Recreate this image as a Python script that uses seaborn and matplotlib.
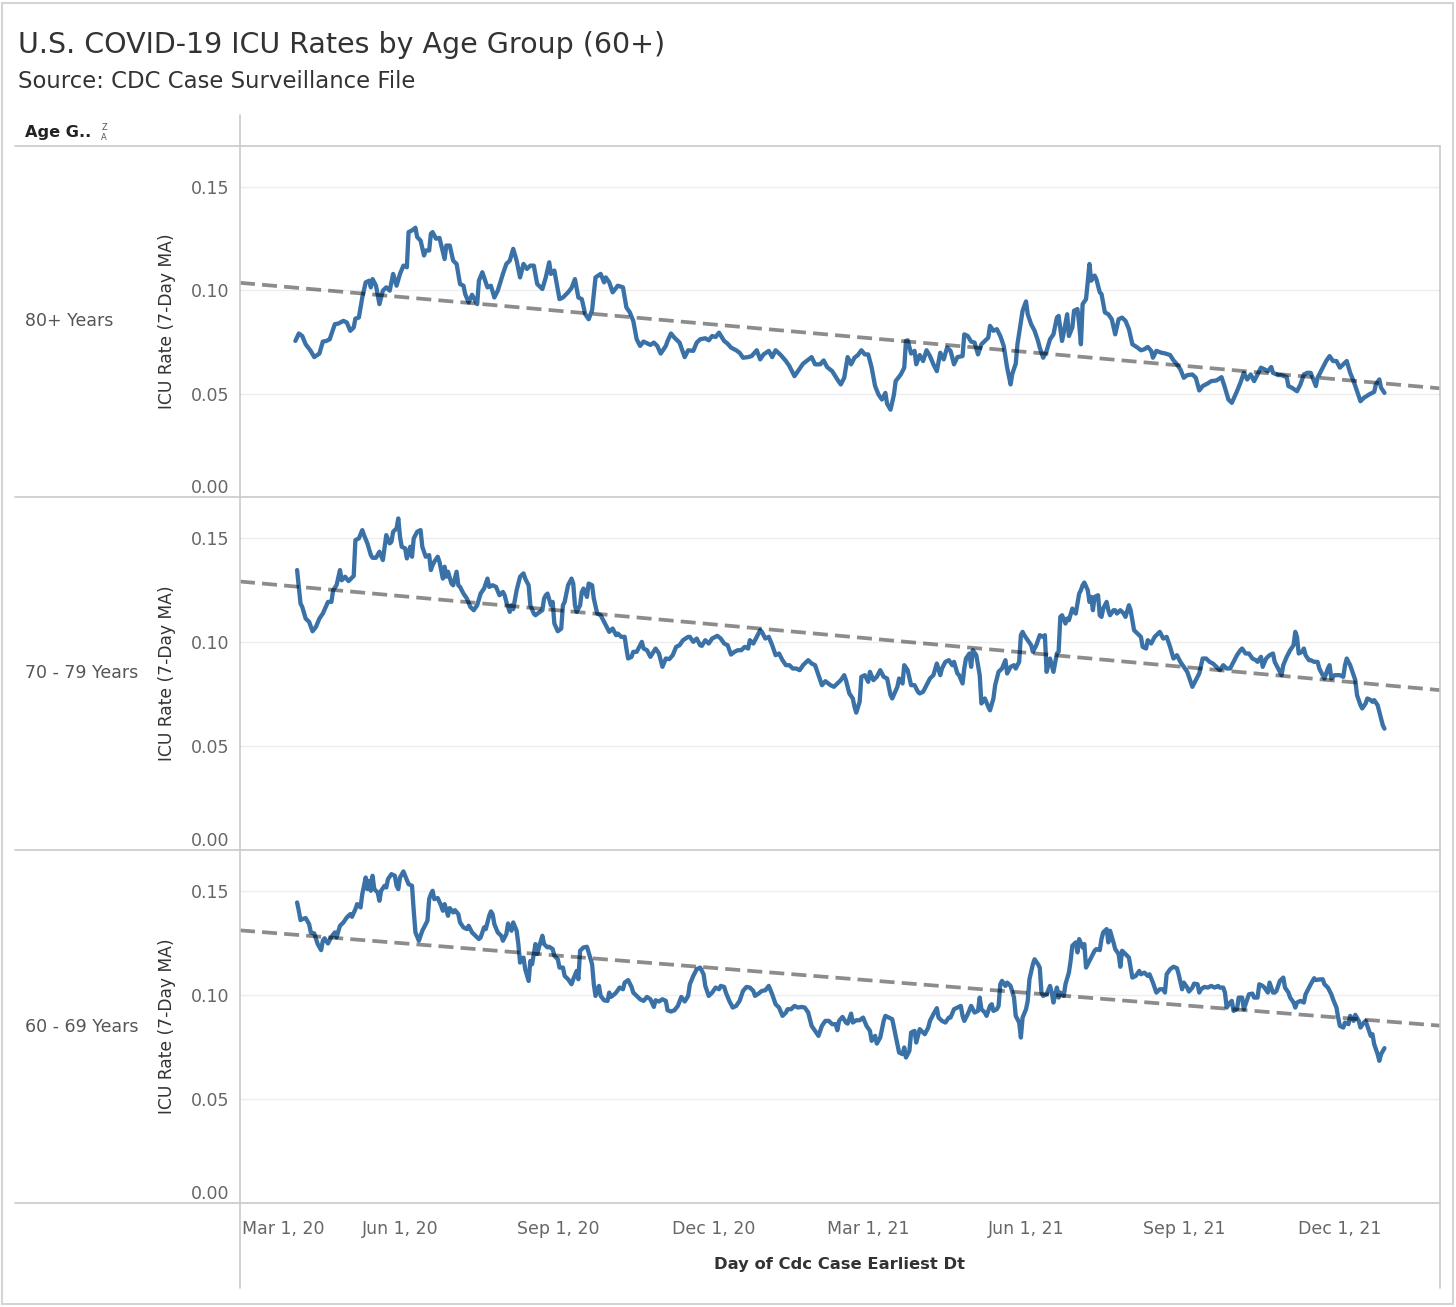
import matplotlib
matplotlib.use("Agg")
import matplotlib.pyplot as plt
from matplotlib.lines import Line2D
from matplotlib.patches import Rectangle
import pandas as pd
import seaborn as sns

# ---------------- data ----------------
# (days since 2020-03-01, ICU rate 7-day MA)
groups = ["80+ Years", "70 - 79 Years", "60 - 69 Years"]

obs_80 = [
    (31, .0754), (33, .0790), (35, .0778), (37, .0738), (40, .0705), (42, .0676), (45, .0693), (47, .0751),
    (49, .0754), (51, .0762), (54, .0835), (56, .0838), (59, .0851), (61, .0843), (63, .0803), (65, .0819),
    (66, .0862), (68, .0867), (70, .0964), (72, .1037), (74, .1045), (75, .1013), (76, .1053), (78, .1021),
    (80, .0932), (82, .0997), (84, .1013), (86, .0997), (88, .1078), (90, .1021), (92, .1078), (94, .1118),
    (96, .1110), (97, .1280), (99, .1288), (101, .1301), (102, .1256), (104, .1239), (106, .1167), (107, .1191),
    (109, .1191), (110, .1272), (111, .1280), (113, .1248), (115, .1252), (118, .1150), (119, .1215), (121, .1215),
    (123, .1142), (125, .1126), (127, .1029), (129, .1021), (130, .0981), (132, .0940), (134, .0977), (137, .0932),
    (138, .1045), (140, .1086), (143, .1013), (145, .1021), (147, .0964), (149, .0997), (152, .1078), (154, .1126),
    (156, .1142), (158, .1199), (160, .1142), (162, .1061), (164, .1126), (166, .1102), (168, .1118), (170, .1118),
    (172, .1029), (175, .1005), (177, .1061), (179, .1134), (180, .1078), (182, .1094), (185, .0956), (187, .0964),
    (190, .0989), (192, .1010), (194, .1053), (196, .0964), (198, .0956), (200, .0883), (202, .0859), (204, .0903),
    (206, .1061), (209, .1078), (211, .1037), (212, .1061), (214, .1037), (216, .0989), (219, .1021), (222, .1013),
    (224, .0916), (226, .0892), (228, .0851), (230, .0762), (232, .0730), (234, .0751), (238, .0735),
    (240, .0746), (242, .0730), (244, .0693), (247, .0730), (248, .0754), (250, .0790), (252, .0770), (255, .0746),
    (256, .0722), (258, .0676), (260, .0709), (263, .0706), (265, .0746), (267, .0762), (270, .0767), (272, .0757),
    (274, .0778), (276, .0773), (278, .0794), (281, .0754), (283, .0741), (285, .0722), (288, .0709), (290, .0697),
    (292, .0673), (295, .0676), (297, .0681), (300, .0709), (302, .0665), (304, .0689), (307, .0706), (309, .0676),
    (311, .0709), (314, .0686), (317, .0657), (319, .0633), (322, .0584), (324, .0608), (327, .0644), (329, .0657),
    (332, .0676), (334, .0641), (337, .0641), (339, .0660), (341, .0628), (344, .0608), (347, .0568), (349, .0544),
    (351, .0576), (353, .0676), (355, .0641), (357, .0673), (359, .0686), (361, .0709), (363, .0689), (365, .0689),
    (367, .0625), (369, .0536), (371, .0495), (373, .0471), (375, .0503), (376, .0450), (378, .0422), (380, .0495),
    (381, .0560), (384, .0592), (386, .0625), (387, .0754), (388, .0757), (390, .0693), (392, .0706), (393, .0641),
    (395, .0686), (397, .0657), (399, .0709), (401, .0681), (403, .0641), (405, .0608), (407, .0697), (409, .0665),
    (411, .0722), (413, .0706), (415, .0641), (417, .0676), (420, .0681), (421, .0786), (423, .0778), (425, .0751),
    (427, .0746), (429, .0689), (431, .0738), (433, .0754), (435, .0770), (436, .0827), (438, .0803), (440, .0811),
    (442, .0778), (444, .0730), (446, .0625), (448, .0544), (449, .0595), (451, .0644), (452, .0738), (455, .0900),
    (457, .0945), (458, .0883), (460, .0835), (462, .0803), (464, .0754), (465, .0722), (467, .0673), (469, .0706),
    (471, .0762), (473, .0786), (475, .0867), (476, .0875), (478, .0754), (479, .0794), (481, .0883), (482, .0778),
    (484, .0819), (485, .0900), (487, .0908), (488, .0835), (489, .0738), (490, .0932), (492, .0956), (494, .1126),
    (495, .1045), (497, .1070), (498, .1053), (500, .0989), (501, .0981), (503, .0892), (505, .0883), (507, .0859),
    (509, .0786), (511, .0859), (513, .0867), (515, .0851), (517, .0811), (519, .0738), (522, .0722), (524, .0709),
    (526, .0714), (528, .0725), (530, .0706), (531, .0673), (533, .0706), (536, .0697), (538, .0694), (541, .0686),
    (543, .0660), (545, .0641), (547, .0617), (549, .0576), (551, .0589), (554, .0592), (556, .0576), (558, .0515),
    (560, .0536), (563, .0549), (565, .0560), (568, .0563), (571, .0579), (573, .0528), (575, .0471), (577, .0455),
    (580, .0511), (582, .0552), (584, .0600), (586, .0568), (588, .0592), (590, .0560), (592, .0592), (594, .0625),
    (596, .0617), (598, .0608), (600, .0628), (601, .0600), (604, .0589), (606, .0589), (609, .0579), (610, .0536),
    (612, .0528), (615, .0511), (617, .0544), (619, .0592), (621, .0600), (623, .0600), (626, .0536), (627, .0576),
    (629, .0608), (632, .0657), (634, .0681), (636, .0657), (638, .0657), (640, .0625), (642, .0641), (644, .0657),
    (646, .0600), (648, .0560), (650, .0511), (652, .0463), (654, .0479), (657, .0495), (660, .0508), (661, .0544),
    (663, .0568), (664, .0528), (666, .0503),
]

obs_70 = [
    (32, .1345), (33, .1264), (34, .1184), (35, .1168), (37, .1112), (39, .1096), (41, .1051), (43, .1072),
    (45, .1112), (47, .1136), (50, .1192), (52, .1192), (53, .1248), (55, .1272), (57, .1345), (58, .1296),
    (60, .1313), (62, .1292), (65, .1317), (66, .1489), (68, .1497), (70, .1537), (71, .1513), (73, .1473),
    (75, .1417), (76, .1404), (78, .1404), (80, .1433), (82, .1393), (84, .1513), (86, .1473), (87, .1481),
    (88, .1529), (90, .1545), (91, .1593), (92, .1505), (93, .1457), (95, .1449), (96, .1401), (98, .1457),
    (99, .1409), (100, .1497), (102, .1529), (104, .1537), (105, .1457), (107, .1409), (109, .1417), (110, .1345),
    (111, .1369), (112, .1385), (114, .1409), (115, .1385), (117, .1304), (118, .1361), (119, .1313), (120, .1337),
    (122, .1280), (123, .1272), (125, .1337), (126, .1272), (127, .1264), (129, .1232), (131, .1208), (133, .1168),
    (135, .1152), (137, .1176), (139, .1232), (141, .1256), (143, .1304), (144, .1264), (146, .1272), (148, .1264),
    (150, .1224), (152, .1240), (153, .1224), (154, .1192), (156, .1144), (157, .1176), (158, .1157), (160, .1248),
    (162, .1313), (164, .1329), (165, .1304), (167, .1272), (168, .1176), (170, .1136), (171, .1128), (173, .1141),
    (175, .1152), (176, .1208), (177, .1224), (178, .1232), (180, .1176), (181, .1192), (182, .1088), (184, .1051),
    (186, .1064), (187, .1176), (188, .1192), (190, .1272), (192, .1304), (193, .1280), (194, .1176), (195, .1144),
    (197, .1176), (198, .1240), (199, .1256), (201, .1216), (202, .1280), (204, .1272), (205, .1208), (207, .1136),
    (209, .1128), (211, .1096), (213, .1064), (214, .1048), (216, .1064), (218, .1032), (219, .1040), (221, .1024),
    (223, .1024), (224, .0968), (225, .0920), (227, .0928), (228, .0952), (230, .0952), (232, .0984), (233, .1000),
    (234, .0968), (236, .0960), (238, .0928),
    (241, .0968), (243, .0944), (245, .0880), (247, .0920), (249, .0917), (251, .0936), (253, .0976), (255, .0984),
    (257, .1008), (260, .1024), (261, .1024), (263, .1000), (265, .1016), (267, .0984), (268, .0981), (270, .1008),
    (272, .0992), (274, .1016), (277, .1029), (279, .1016), (281, .0992), (283, .0984), (285, .0939), (287, .0952),
    (289, .0960), (291, .0960), (293, .0976), (295, .0968), (296, .1008), (298, .0992), (300, .1024), (302, .1056),
    (303, .1048), (305, .1016), (307, .1024), (309, .0984), (311, .0936), (313, .0944), (315, .0912), (317, .0888),
    (319, .0888), (321, .0872), (323, .0872), (325, .0864), (327, .0888), (329, .0904), (330, .0912), (332, .0896),
    (334, .0888), (336, .0840), (338, .0792), (340, .0811), (343, .0792), (345, .0784), (347, .0800), (349, .0816),
    (351, .0840), (352, .0816), (354, .0752), (356, .0728), (357, .0688), (358, .0660), (360, .0712), (361, .0832),
    (363, .0840), (365, .0808), (366, .0856), (368, .0816), (370, .0832), (372, .0864), (374, .0832), (376, .0824),
    (378, .0744), (379, .0728), (382, .0784), (383, .0824), (385, .0800), (386, .0888), (388, .0864), (390, .0792),
    (392, .0792), (394, .0760), (395, .0752), (397, .0760), (399, .0792), (401, .0824), (403, .0840), (405, .0896),
    (407, .0840), (408, .0872), (410, .0904), (412, .0912), (414, .0888), (415, .0904), (417, .0848), (418, .0840),
    (420, .0800), (421, .0872), (422, .0920), (424, .0944), (425, .0880), (426, .0960), (428, .0936), (430, .0840),
    (431, .0704), (433, .0728), (435, .0688), (436, .0671), (438, .0728), (439, .0792), (441, .0856), (443, .0872),
    (445, .0912), (446, .0848), (448, .0880), (450, .0888), (451, .0872), (453, .0904), (454, .1032), (455, .1048),
    (456, .1032), (458, .1008), (460, .0984), (461, .0952), (463, .0984), (465, .1032), (467, .1024), (468, .1032),
    (469, .0856), (471, .0920), (473, .0856), (475, .0944), (476, .0952), (477, .1120), (478, .1128), (480, .1088),
    (481, .1112), (482, .1104), (484, .1160), (485, .1144), (486, .1136), (488, .1232), (489, .1248), (490, .1272),
    (491, .1285), (493, .1248), (494, .1192), (495, .1216), (496, .1152), (497, .1216), (499, .1224), (500, .1128),
    (501, .1120), (502, .1160), (504, .1192), (505, .1152), (506, .1128), (508, .1152), (509, .1152), (510, .1136),
    (512, .1152), (514, .1136), (515, .1120), (517, .1176), (518, .1152), (520, .1056), (522, .1040), (524, .1024),
    (525, .0976), (527, .0968), (528, .1008), (530, .0992), (532, .1024), (534, .1040), (535, .1048), (537, .1016),
    (539, .1024), (541, .0976), (543, .0920), (545, .0936), (547, .0904), (549, .0880), (551, .0856), (553, .0808),
    (554, .0784), (556, .0816), (558, .0848), (560, .0920), (562, .0920), (564, .0904), (566, .0896), (568, .0880),
    (570, .0864), (572, .0888), (574, .0872), (576, .0872), (578, .0904), (580, .0936), (582, .0960), (583, .0968),
    (585, .0944), (587, .0944), (589, .0920), (591, .0912), (592, .0904), (594, .0928), (595, .0880), (597, .0920),
    (599, .0936), (601, .0944), (602, .0904), (604, .0872), (606, .0840), (607, .0888), (609, .0928), (611, .0960),
    (613, .0984), (614, .1048), (615, .1024), (616, .0944), (618, .0952), (619, .0968), (620, .0936), (622, .0912),
    (623, .0912), (625, .0904), (627, .0904), (628, .0872), (630, .0840), (631, .0824), (633, .0872), (634, .0888),
    (635, .0824), (637, .0840), (639, .0840), (640, .0840), (642, .0832), (643, .0888), (644, .0920), (646, .0888),
    (647, .0864), (649, .0816), (650, .0744), (652, .0696), (653, .0680), (655, .0704), (656, .0728), (658, .0720),
    (659, .0712), (660, .0720), (662, .0696), (663, .0664), (665, .0600), (666, .0583),
]

obs_60 = [
    (32, .1444), (33, .1404), (34, .1359), (35, .1364), (37, .1369), (39, .1340), (40, .1300), (42, .1295),
    (44, .1244), (46, .1215), (47, .1260), (48, .1272), (50, .1247), (52, .1279), (54, .1300), (55, .1276),
    (57, .1332), (59, .1348), (61, .1372), (63, .1388), (64, .1375), (66, .1412), (67, .1436), (69, .1420),
    (70, .1484), (72, .1564), (73, .1508), (74, .1548), (75, .1500), (76, .1572), (77, .1508), (79, .1492),
    (80, .1452), (81, .1500), (83, .1524), (84, .1516), (85, .1556), (87, .1580), (89, .1572), (90, .1524),
    (91, .1508), (92, .1564), (94, .1593), (95, .1572), (97, .1532), (99, .1524), (100, .1404), (101, .1300),
    (103, .1260), (105, .1308), (106, .1324), (108, .1356), (109, .1460), (110, .1484), (111, .1500), (112, .1460),
    (114, .1465), (116, .1428), (117, .1404), (118, .1436), (120, .1380), (121, .1417), (123, .1396), (124, .1407),
    (126, .1388), (127, .1348), (129, .1324), (131, .1316), (132, .1332), (134, .1300), (136, .1284), (138, .1268),
    (139, .1276), (141, .1324), (142, .1316), (144, .1380), (145, .1401), (146, .1388), (147, .1340), (149, .1300),
    (151, .1284), (152, .1260), (154, .1292), (155, .1343), (156, .1324), (157, .1308), (158, .1348), (160, .1308),
    (161, .1244), (162, .1155), (164, .1179), (165, .1123), (167, .1067), (168, .1163), (169, .1147), (171, .1244),
    (172, .1196), (173, .1228), (175, .1284), (176, .1244), (178, .1228), (179, .1231), (181, .1220), (182, .1188),
    (184, .1171), (185, .1131), (187, .1131), (188, .1091), (190, .1075), (192, .1051), (193, .1075), (195, .1115),
    (196, .1075), (197, .1212), (199, .1228), (201, .1231), (202, .1204), (204, .1147), (205, .1051), (206, .0995),
    (208, .1043), (209, .0995), (211, .0974), (213, .0971), (214, .1011), (215, .0990), (217, .1003), (218, .1011),
    (220, .1035), (222, .1027), (223, .1059), (225, .1071), (227, .1038), (228, .1011), (230, .0995), (232, .0979),
    (234, .0971), (236, .0990), (238, .0979),
    (240, .0942), (241, .0974), (243, .0968), (245, .0979), (247, .0971), (248, .0926), (250, .0920), (252, .0926),
    (254, .0947), (256, .0990), (258, .0968), (260, .0995), (261, .1051), (263, .1091), (265, .1123), (267, .1131),
    (269, .1099), (270, .1043), (272, .0995), (274, .1011), (276, .1035), (278, .1027), (279, .1043), (281, .1038),
    (282, .1011), (284, .0971), (286, .0939), (288, .0947), (290, .0971), (292, .1019), (294, .1038), (296, .1035),
    (298, .1019), (299, .0995), (301, .1006), (303, .1019), (305, .1022), (307, .1043), (309, .1003), (311, .0955),
    (313, .0939), (315, .0899), (317, .0915), (318, .0931), (320, .0931), (322, .0947), (324, .0939), (326, .0942),
    (328, .0939), (330, .0915), (332, .0851), (334, .0827), (336, .0803), (338, .0851), (340, .0875), (342, .0875),
    (344, .0859), (346, .0859), (347, .0830), (348, .0875), (350, .0894), (352, .0867), (353, .0862), (355, .0910),
    (356, .0867), (358, .0878), (360, .0878), (362, .0891), (364, .0851), (366, .0827), (367, .0779), (369, .0803),
    (370, .0766), (372, .0795), (374, .0875), (375, .0899), (377, .0891), (379, .0883), (381, .0803), (383, .0723),
    (385, .0715), (386, .0747), (387, .0699), (389, .0731), (390, .0819), (392, .0827), (393, .0771), (395, .0835),
    (397, .0819), (398, .0811), (400, .0843), (401, .0875), (403, .0907), (405, .0936), (406, .0891), (408, .0875),
    (410, .0867), (412, .0891), (413, .0891), (415, .0931), (417, .0939), (419, .0947), (420, .0899), (421, .0875),
    (423, .0907), (425, .0947), (427, .0915), (429, .0923), (430, .0987), (431, .0931), (433, .0915), (434, .0899),
    (436, .0947), (437, .0955), (438, .0923), (440, .0931), (441, .0947), (442, .1051), (443, .1067), (445, .1043),
    (446, .1059), (448, .1043), (450, .0987), (451, .0899), (453, .0867), (454, .0795), (455, .0891), (457, .0931),
    (458, .0971), (459, .1075), (461, .1147), (462, .1171), (464, .1147), (465, .1131), (466, .1011), (467, .0995),
    (469, .1003), (471, .1043), (472, .1011), (473, .0963), (475, .1035), (476, .0987), (477, .1011), (479, .0995),
    (480, .1051), (482, .1107), (483, .1163), (484, .1236), (486, .1252), (487, .1204), (488, .1268), (490, .1228),
    (491, .1244), (492, .1131), (494, .1163), (495, .1179), (497, .1212), (498, .1220), (500, .1215), (501, .1268),
    (502, .1300), (504, .1316), (505, .1252), (506, .1308), (508, .1252), (509, .1220), (511, .1196), (512, .1135),
    (513, .1212), (515, .1196), (517, .1179), (518, .1131), (519, .1083), (521, .1091), (523, .1115), (524, .1099),
    (526, .1107), (528, .1091), (529, .1099), (531, .1059), (533, .1011), (535, .1027), (537, .1027), (538, .1011),
    (539, .1099), (541, .1123), (543, .1135), (545, .1128), (546, .1099), (548, .1027), (549, .1059), (551, .1035),
    (552, .1016), (554, .1035), (555, .1054), (557, .1051), (558, .1011), (559, .1027), (561, .1038), (563, .1035),
    (565, .1043), (567, .1035), (569, .1043), (570, .1035), (572, .1035), (573, .1011), (574, .0939), (576, .0963),
    (577, .0971), (578, .0923), (580, .0931), (581, .0987), (583, .0987), (584, .0931), (586, .0979), (587, .1003),
    (589, .1006), (590, .0987), (592, .0987), (593, .1051), (595, .1043), (596, .1035), (598, .1011), (599, .1059),
    (601, .1011), (602, .1011), (603, .1019), (605, .1067), (607, .1083), (608, .1035), (610, .1011), (611, .0987),
    (613, .0963), (614, .0939), (615, .0963), (617, .0971), (619, .0963), (620, .1003), (622, .1035), (623, .1051),
    (625, .1080), (626, .1071), (628, .1074), (630, .1075), (631, .1051), (633, .1035), (635, .1003), (636, .0979),
    (638, .0939), (639, .0891), (640, .0851), (642, .0843), (643, .0867), (645, .0859), (646, .0899), (648, .0875),
    (649, .0904), (651, .0875), (652, .0843), (654, .0867), (655, .0875), (656, .0851), (658, .0803), (659, .0811),
    (660, .0763), (662, .0715), (663, .0683), (664, .0715), (666, .0744),
]

# linear trend line values at the left and right edges of each pane
trend_start = [0.1035, 0.1290, 0.1310]
trend_end = [0.0525, 0.0768, 0.0852]

y_ticks = [0.00, 0.05, 0.10, 0.15]
y_tick_labels = ["0.00", "0.05", "0.10", "0.15"]
x_tick_dates = ["2020-03-01", "2020-06-01", "2020-09-01", "2020-12-01",
                "2021-03-01", "2021-06-01", "2021-09-01", "2021-12-01"]
x_tick_labels = ["Mar 1, 20", "Jun 1, 20", "Sep 1, 20", "Dec 1, 20",
                 "Mar 1, 21", "Jun 1, 21", "Sep 1, 21", "Dec 1, 21"]

title = "U.S. COVID-19 ICU Rates by Age Group (60+)"
subtitle = "Source: CDC Case Surveillance File"
y_label = "ICU Rate (7-Day MA)"
x_label = "Day of Cdc Case Earliest Dt"
row_header = "Age G.."

# ---------------- build table ----------------
base = pd.Timestamp("2020-03-01")
frames = []
for g, obs in zip(groups, [obs_80, obs_70, obs_60]):
    d, v = zip(*obs)
    frames.append(pd.DataFrame({"group": g,
                                "date": base + pd.to_timedelta(list(d), unit="D"),
                                "icu": list(v)}))
df = pd.concat(frames, ignore_index=True)

x_start = base - pd.Timedelta(hours=31)
x_end = base + pd.Timedelta(hours=int(698.4 * 24))

# ---------------- figure ----------------
sns.set_theme(style="white")
plt.rcParams["font.family"] = ["DejaVu Sans"]

W, H = 1456, 1307
fig = plt.figure(figsize=(W / 100, H / 100), dpi=100)


def fx(px):
    return px / W


def fy(py):
    return 1 - py / H


LINE = "#3a72a8"
SEP = "#c9c9c9"
TXT = "#333333"
TICK = "#666666"

pane_top = [146, 497, 850]
pane_bot = [497, 850, 1203]
L, R = 240, 1440

for i, g in enumerate(groups):
    ax = fig.add_axes([fx(L), fy(pane_bot[i]), (R - L) / W, (pane_bot[i] - pane_top[i]) / H])
    sub = df[df["group"] == g]
    sns.lineplot(data=sub, x="date", y="icu", ax=ax, color=LINE, linewidth=3.1,
                 estimator=None, solid_joinstyle="round", solid_capstyle="round")
    trend = pd.DataFrame({"date": [x_start, x_end], "icu": [trend_start[i], trend_end[i]]})
    sns.lineplot(data=trend, x="date", y="icu", ax=ax, color="black", alpha=0.45,
                 linewidth=2.7, linestyle=(0, (4.0, 1.9)))
    ax.set_xlim(x_start, x_end)
    ax.set_ylim(0, 0.1696)
    ax.set_yticks(y_ticks)
    ax.set_yticklabels(y_tick_labels)
    ax.yaxis.grid(True, color="#ededed", linewidth=1.0)
    ax.xaxis.grid(False)
    ax.set_axisbelow(True)
    for s in ax.spines.values():
        s.set_visible(False)
    ax.tick_params(axis="y", length=0, pad=8, labelsize=12.5, labelcolor=TICK)
    ylbls = ax.get_yticklabels()
    ylbls[0].set_va("bottom")
    ax.set_ylabel(y_label, fontsize=12.3, color=TXT, labelpad=10)
    ax.set_xticks(pd.to_datetime(x_tick_dates))
    if i < 2:
        ax.set_xticklabels([])
        ax.tick_params(axis="x", length=0)
        ax.set_xlabel("")
    else:
        ax.set_xticklabels(x_tick_labels)
        ax.tick_params(axis="x", length=0, pad=12, labelsize=12.5, labelcolor=TICK)
        ax.get_xticklabels()[0].set_ha("left")
        ax.set_xlabel(x_label, fontsize=11.8, color=TXT, fontweight="bold", labelpad=14)
    fig.text(fx(25), fy((pane_top[i] + pane_bot[i]) / 2), g, fontsize=12.5, color="#555555",
             ha="left", va="center")

# separators / frame
for yy in [146, 497, 850, 1203]:
    fig.add_artist(Line2D([fx(15), fx(R)], [fy(yy), fy(yy)], color=SEP, linewidth=1.2))
fig.add_artist(Line2D([fx(L), fx(L)], [fy(115), fy(1288)], color=SEP, linewidth=1.2))
fig.add_artist(Line2D([fx(R), fx(R)], [fy(146), fy(1288)], color=SEP, linewidth=1.2))
fig.add_artist(Rectangle((fx(2), fy(1304)), fx(1451), (1304 - 3) / H, fill=False,
                         edgecolor="#d4d4d4", linewidth=1.5))

# titles
fig.text(fx(18), fy(45), title, fontsize=20.5, color=TXT, ha="left", va="center")
fig.text(fx(18), fy(82), subtitle, fontsize=16.4, color=TXT, ha="left", va="center")
fig.text(fx(25), fy(132), row_header, fontsize=11.6, color="#222222", fontweight="bold",
         ha="left", va="center")
fig.text(fx(104), fy(127), "Z", fontsize=6, color="#555555", ha="center", va="center")
fig.text(fx(104), fy(137), "A", fontsize=6, color="#555555", ha="center", va="center")

fig.savefig("out.png", dpi=100, facecolor="white")
